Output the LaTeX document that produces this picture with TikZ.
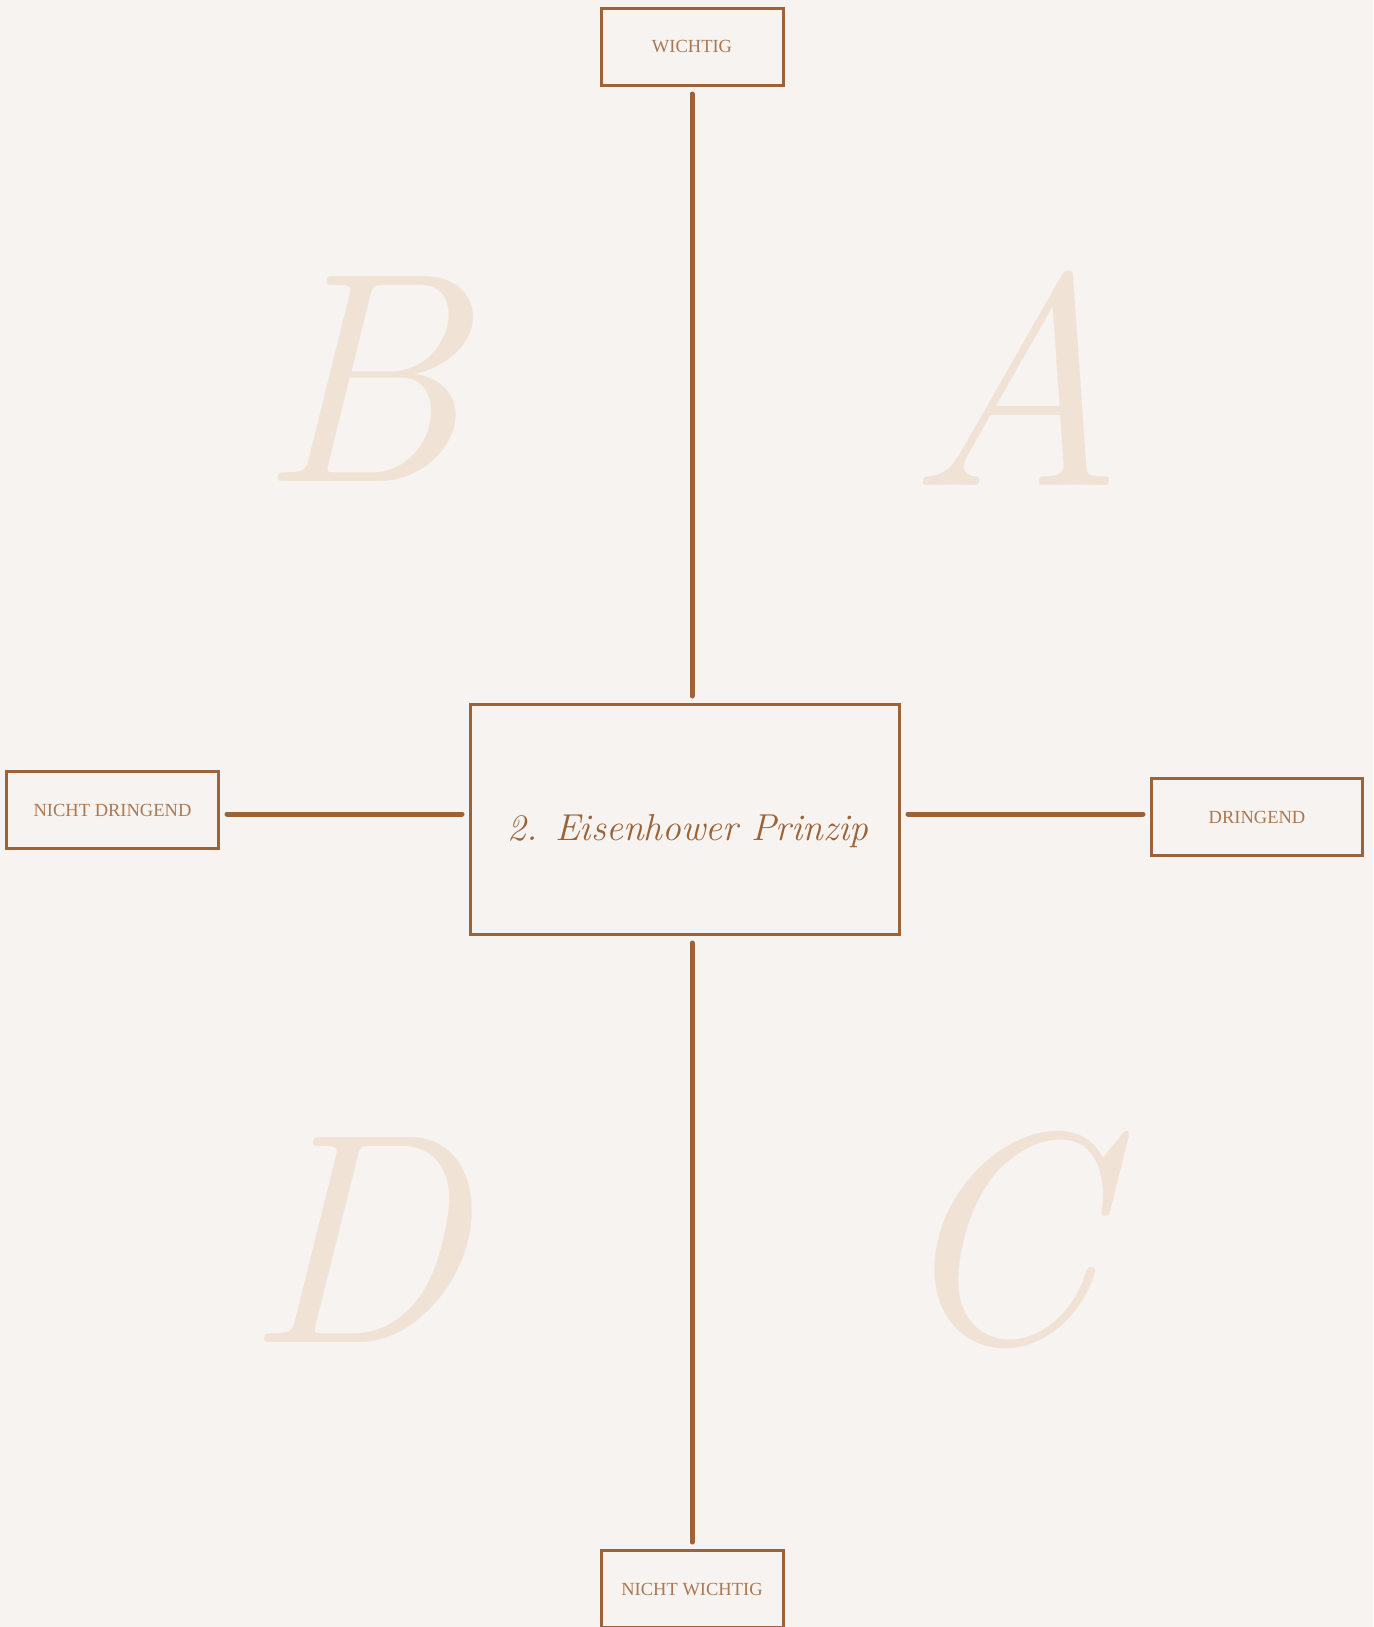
\documentclass[tikz,border=0pt]{standalone}
\usepackage{fontspec}
\newfontfamily\labelfont{Liberation Serif}
\usepackage{xcolor}
\usetikzlibrary{positioning}

\definecolor{bgcream}{RGB}{246,243,240}
\definecolor{axisbrown}{RGB}{155,99,55}
\definecolor{labelbrown}{RGB}{170,121,82}
\definecolor{letterbeige}{RGB}{240,226,212}
\newcommand{\handfont}{\rmfamily\itshape}

\begin{document}
\begin{tikzpicture}[
    x=1pt, y=-1pt,
    font=\labelfont\fontsize{18.5}{22}\selectfont,
    label box/.style={rectangle, draw=axisbrown, line width=3pt, minimum width=182pt, minimum height=77pt, text=labelbrown, inner sep=0pt},
    title box/.style={rectangle, draw=axisbrown, line width=3pt, minimum width=429pt, minimum height=230pt, inner sep=0pt},
    axis/.style={axisbrown, line width=5pt, line cap=round, shorten <=7pt, shorten >=7pt},
    quadrant/.style={text=letterbeige, font=\handfont\fontsize{300}{300}\selectfont, inner sep=0pt},
]
% Background
\fill[bgcream] (0,0) rectangle (1373,1627);
\useasboundingbox (0,0) rectangle (1373,1627);

% Quadrant letters
\node[quadrant] (qb) at (361,379) {B};
\node[quadrant] (qa) at (1016,378) {A};
\node[quadrant] (qd) at (355,1240) {D};
\node[quadrant] (qc) at (995,1240) {C};

% Centre
\node[title box] (center) at (685,819.5) {};
\node[text=axisbrown, font=\handfont\fontsize{37.5}{37.5}\selectfont, anchor=base] (title) at (688,840) {2. Eisenhower Prinzip};
\coordinate (axis) at (692,814);

% Axis labels
\node[label box] (wichtig) at (692,47) {WICHTIG};
\node[label box] (nichtwichtig) at (692,1589) {NICHT WICHTIG};
\node[label box, minimum width=212pt] (nichtdringend) at (112.5,810) {NICHT DRINGEND};
\node[label box, minimum width=211pt] (dringend) at (1257,817) {DRINGEND};

% Axes
\draw[axis] (wichtig.south) -- (wichtig.south |- center.north);
\draw[axis] (center.south -| nichtwichtig.north) -- (nichtwichtig.north);
\draw[axis] (nichtdringend.east |- axis) -- (center.west |- axis);
\draw[axis] (center.east |- axis) -- (dringend.west |- axis);
\end{tikzpicture}
\end{document}
